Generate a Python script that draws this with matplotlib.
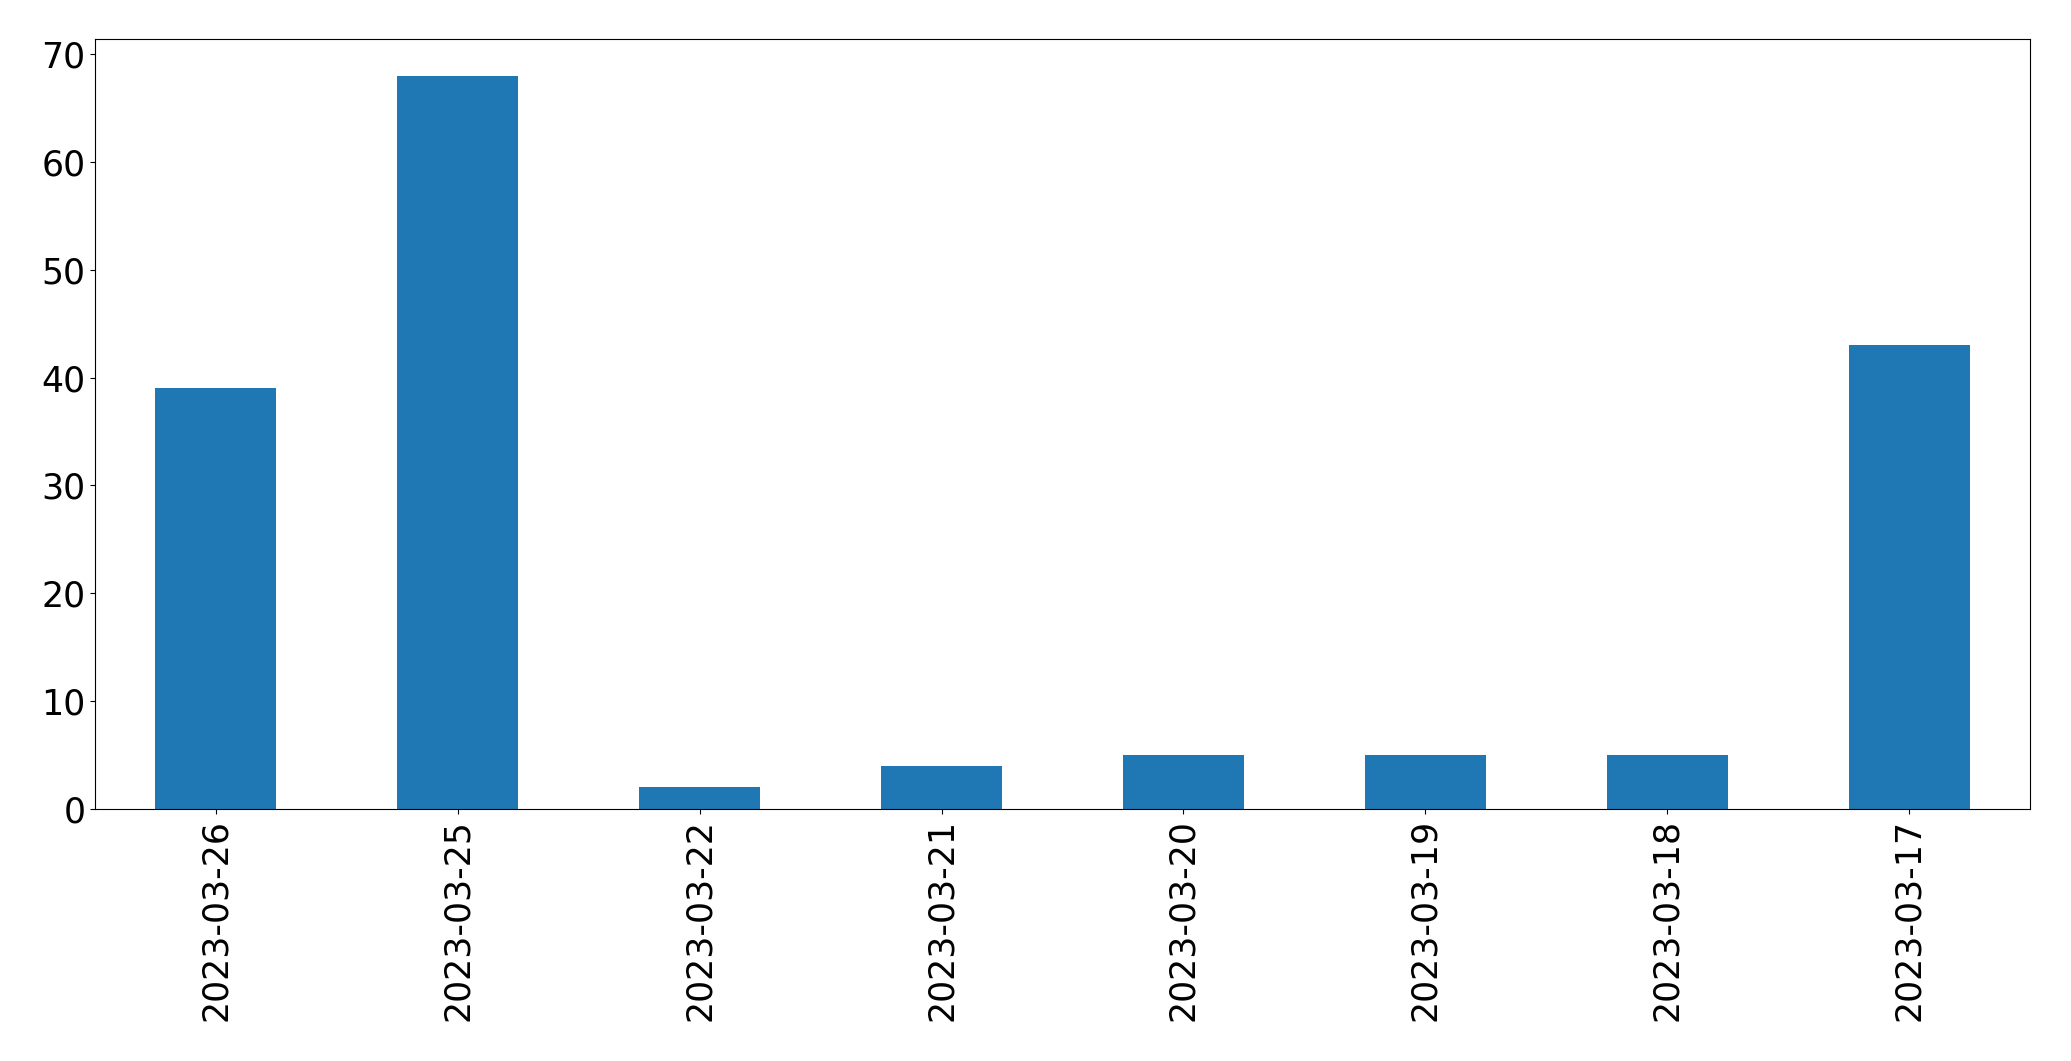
import matplotlib
matplotlib.use('Agg')
import matplotlib.pyplot as plt
import pandas as pd

dates = ['2023-03-26', '2023-03-25', '2023-03-22', '2023-03-21',
         '2023-03-20', '2023-03-19', '2023-03-18', '2023-03-17']
counts = [39, 68, 2, 4, 5, 5, 5, 43]

plt.rcParams['font.size'] = 25

s = pd.Series(counts, index=dates)
fig = plt.figure(figsize=(20.71, 10.61), dpi=100)
ax = fig.add_axes([95 / 2071, 1 - 809 / 1061, (2030 - 95) / 2071, (809 - 39) / 1061])
s.plot(kind='bar', ax=ax, color='#1f77b4')
ax.tick_params(labelsize=25)

fig.savefig('out.png', dpi=100)
